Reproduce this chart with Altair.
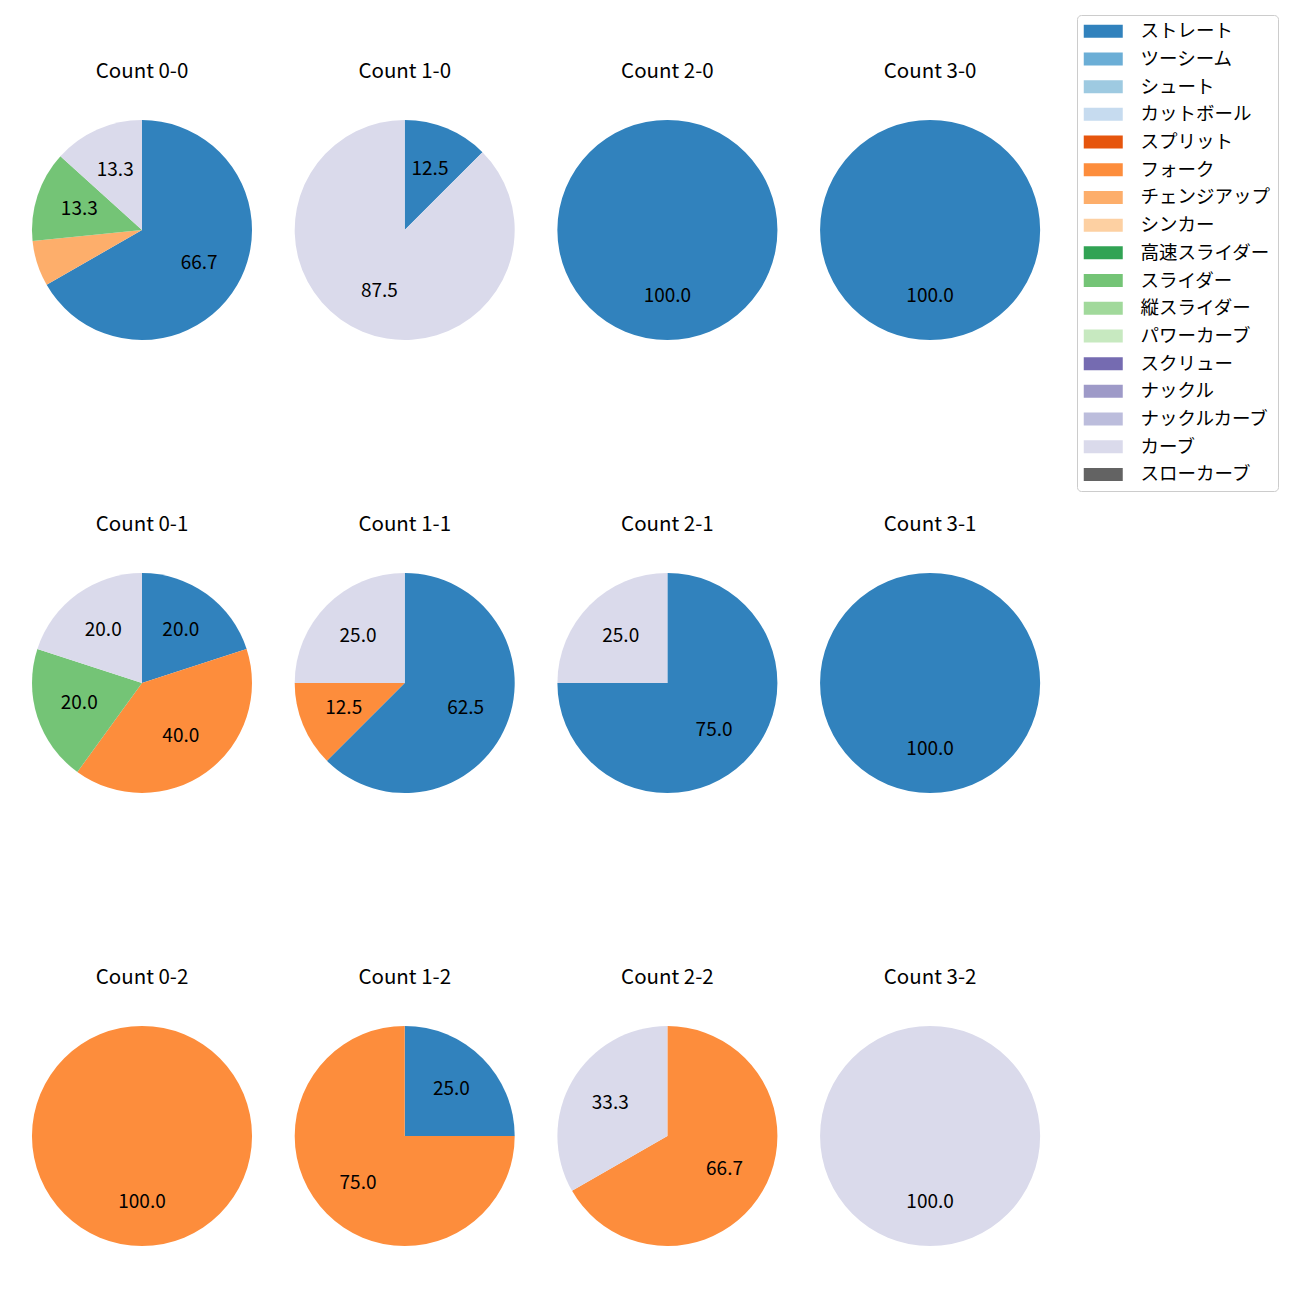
import altair as alt
import pandas as pd

FONT = "Noto Sans CJK JP"

pitch_types = ["ストレート", "ツーシーム", "シュート", "カットボール", "スプリット", "フォーク",
               "チェンジアップ", "シンカー", "高速スライダー", "スライダー", "縦スライダー",
               "パワーカーブ", "スクリュー", "ナックル", "ナックルカーブ", "カーブ", "スローカーブ"]
pitch_colors = ["#3182bd", "#6baed6", "#9ecae1", "#c6dbef", "#e6550d", "#fd8d3c",
                "#fdae6b", "#fdd0a2", "#31a354", "#74c476", "#a1d99b", "#c7e9c0",
                "#756bb1", "#9e9ac8", "#bcbddc", "#dadaeb", "#636363"]

# panel order: rows = strikes, cols = balls
panel_titles = ["Count 0-0", "Count 1-0", "Count 2-0", "Count 3-0",
                "Count 0-1", "Count 1-1", "Count 2-1", "Count 3-1",
                "Count 0-2", "Count 1-2", "Count 2-2", "Count 3-2"]

panel_types = [
    ["ストレート", "チェンジアップ", "スライダー", "カーブ"],
    ["ストレート", "カーブ"],
    ["ストレート"],
    ["ストレート"],
    ["ストレート", "フォーク", "スライダー", "カーブ"],
    ["ストレート", "フォーク", "カーブ"],
    ["ストレート", "カーブ"],
    ["ストレート"],
    ["フォーク"],
    ["ストレート", "フォーク"],
    ["フォーク", "カーブ"],
    ["カーブ"],
]
panel_values = [
    [66.7, 6.7, 13.3, 13.3],
    [12.5, 87.5],
    [100.0],
    [100.0],
    [20.0, 40.0, 20.0, 20.0],
    [62.5, 12.5, 25.0],
    [75.0, 25.0],
    [100.0],
    [100.0],
    [25.0, 75.0],
    [66.7, 33.3],
    [100.0],
]

rows = []
for title, types, vals in zip(panel_titles, panel_types, panel_values):
    for t, v in zip(types, vals):
        rows.append({"panel": title, "type": t, "pct": v,
                     "idx": pitch_types.index(t),
                     "label": f"{v:.1f}" if v >= 10 else ""})
df = pd.DataFrame(rows)

color_scale = alt.Scale(domain=pitch_types, range=pitch_colors)
legend = alt.Legend(title=None, orient="none", legendX=1045, legendY=-105,
                    symbolType="M-3,-1H3V1H-3Z", symbolSize=169,
                    symbolOffset=10,
                    symbolStrokeWidth=0, symbolOpacity=1,
                    labelFont=FONT, labelFontSize=18.5, labelColor="black",
                    labelOffset=28, rowPadding=8.7, padding=7,
                    strokeColor="#cccccc", cornerRadius=4, fillColor="white")


def panel(title, show_legend):
    base = alt.Chart(df).transform_filter(alt.datum.panel == title)
    arc = base.mark_arc().encode(
        theta=alt.Theta("pct:Q", stack=True),
        color=alt.Color("type:N", scale=color_scale,
                        legend=legend if show_legend else None),
        order=alt.Order("idx:Q", sort="ascending"),
    )
    txt = base.mark_text(radius=66, font=FONT, fontSize=19, color="black",
                         align="center", baseline="middle").encode(
        theta=alt.Theta("pct:Q", stack=True),
        order=alt.Order("idx:Q", sort="ascending"),
        text="label:N",
    )
    return alt.layer(arc, txt).properties(
        width=220, height=220,
        title=alt.Title(title, font=FONT, fontSize=20.5, fontWeight="normal",
                        color="black", offset=38, anchor="middle"),
    )


grid_rows = []
for r in range(3):
    grid_rows.append(alt.hconcat(*[panel(panel_titles[r * 4 + c], r == 0 and c == 0)
                                   for c in range(4)], spacing=42.7))

chart = alt.vconcat(*grid_rows, spacing=174).resolve_scale(color="shared").properties(
    padding={"left": 24, "top": 6, "right": 0, "bottom": 5}
).configure_view(stroke=None)

chart.save("out.html", embed_options={"renderer": "svg", "actions": False})
